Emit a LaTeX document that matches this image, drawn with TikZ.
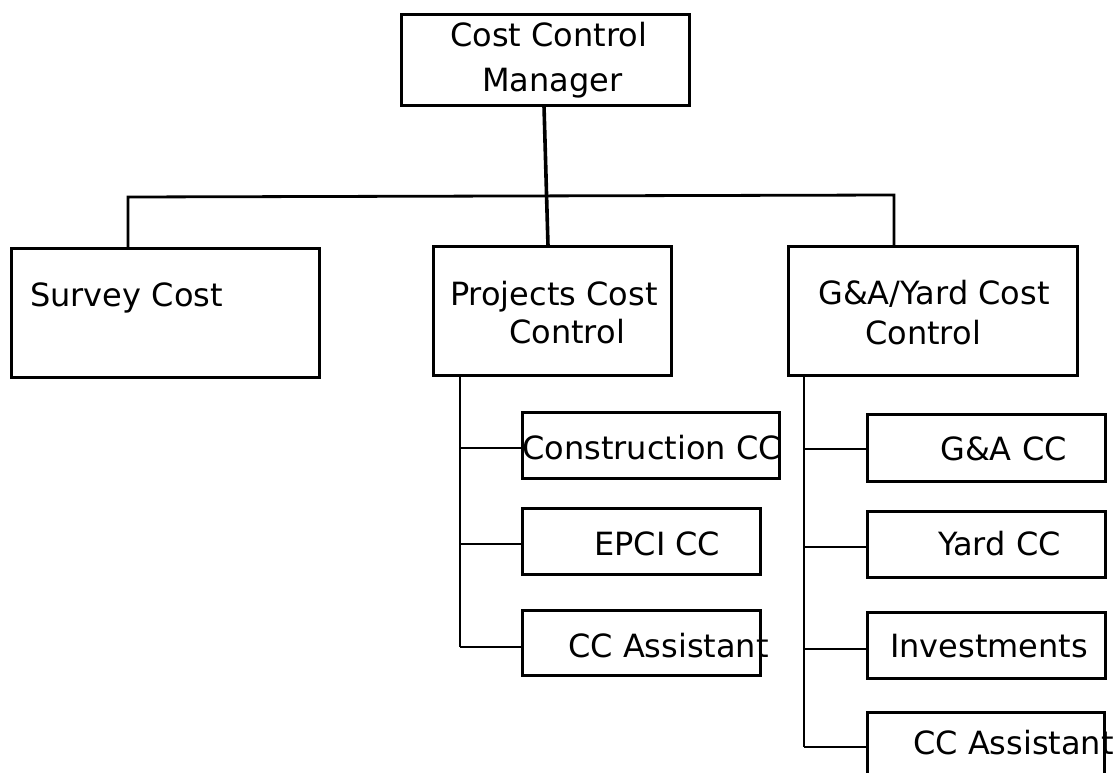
\documentclass[tikz,border=0pt]{standalone}
\usepackage{fontspec}
\setmainfont{DejaVu Sans}
\begin{document}
\begin{tikzpicture}[x=1pt,y=-1pt,
  box/.style={draw,line width=3pt,inner sep=0pt,outer sep=0pt,rectangle},
  conn/.style={line width=2.8pt},
  lbl/.style={anchor=base west,inner sep=0pt,font=\fontsize{32}{40}\selectfont}]
\useasboundingbox (0,0) rectangle (1116,773);
\clip (0,0) rectangle (1116,773);

% boxes
\node[box,minimum width=288pt,minimum height=91pt]  (mgr)  at (545,60.5) {};
\node[box,minimum width=308pt,minimum height=129pt] (surv) at (165,312.5) {};
\node[box,minimum width=238pt,minimum height=129pt] (proj) at (552,310.5) {};
\node[box,minimum width=289pt,minimum height=129pt] (ga)   at (932.5,310.5) {};

\node[box,minimum width=257pt,minimum height=66pt] (p1) at (650.5,445) {};
\node[box,minimum width=238pt,minimum height=66pt] (p2) at (641,541) {};
\node[box,minimum width=238pt,minimum height=65pt] (p3) at (641,642.5) {};

\node[box,minimum width=238pt,minimum height=67pt] (g1) at (986,447.5) {};
\node[box,minimum width=238pt,minimum height=66pt] (g2) at (986,544) {};
\node[box,minimum width=238pt,minimum height=66pt] (g3) at (986,645) {};
\node[box,minimum width=237pt,minimum height=90pt] (g4) at (985.5,757) {};

% labels
\node[lbl] (tmgra) at (450,47) {Cost Control};
\node[lbl] (tmgrb) at (482,92) {Manager};
\node[lbl] (tsurv) at (30,306) {Survey Cost};
\node[lbl] (tproja) at (450,305) {Projects Cost};
\node[lbl] (tprojb) at (509,343) {Control};
\node[lbl] (tgaa) at (818,304) {G\&A/Yard Cost};
\node[lbl] (tgab) at (865,344) {Control};
\node[lbl] (tp1) at (522,459) {Construction CC};
\node[lbl] (tp2) at (594,555) {EPCI CC};
\node[lbl] (tp3) at (568,657) {CC Assistant};
\node[lbl] (tg1) at (940,460) {G\&A CC};
\node[lbl] (tg2) at (938,555) {Yard CC};
\node[lbl] (tg3) at (890,657) {Investments};
\node[lbl] (tg4) at (913,754) {CC Assistant};

% top level connectors
\coordinate (jl) at (128,197);
\coordinate (jr) at (894,195);
\draw[line width=3.6pt] ([xshift=-1pt]mgr.south) -- ([xshift=-4pt]proj.north);
\draw[conn] ([xshift=-37pt]surv.north) -- (jl) -- (jr) -- ([xshift=-38.5pt]ga.north);

% projects branch
\coordinate (pa) at (460,448);
\coordinate (pb) at (460,544);
\coordinate (pc) at (460,647);
\draw[conn] (460,375) -- (pc);
\draw[conn] (pa) -- (p1.west |- pa);
\draw[conn] (pb) -- (p2.west |- pb);
\draw[conn] (pc) -- (p3.west |- pc);

% G&A branch
\coordinate (ga1) at (804,449);
\coordinate (ga2) at (804,547);
\coordinate (ga3) at (804,649);
\coordinate (ga4) at (804,747);
\draw[conn] (804,375) -- (ga4);
\draw[conn] (ga1) -- (g1.west |- ga1);
\draw[conn] (ga2) -- (g2.west |- ga2);
\draw[conn] (ga3) -- (g3.west |- ga3);
\draw[conn] (ga4) -- (g4.west |- ga4);
\end{tikzpicture}
\end{document}
